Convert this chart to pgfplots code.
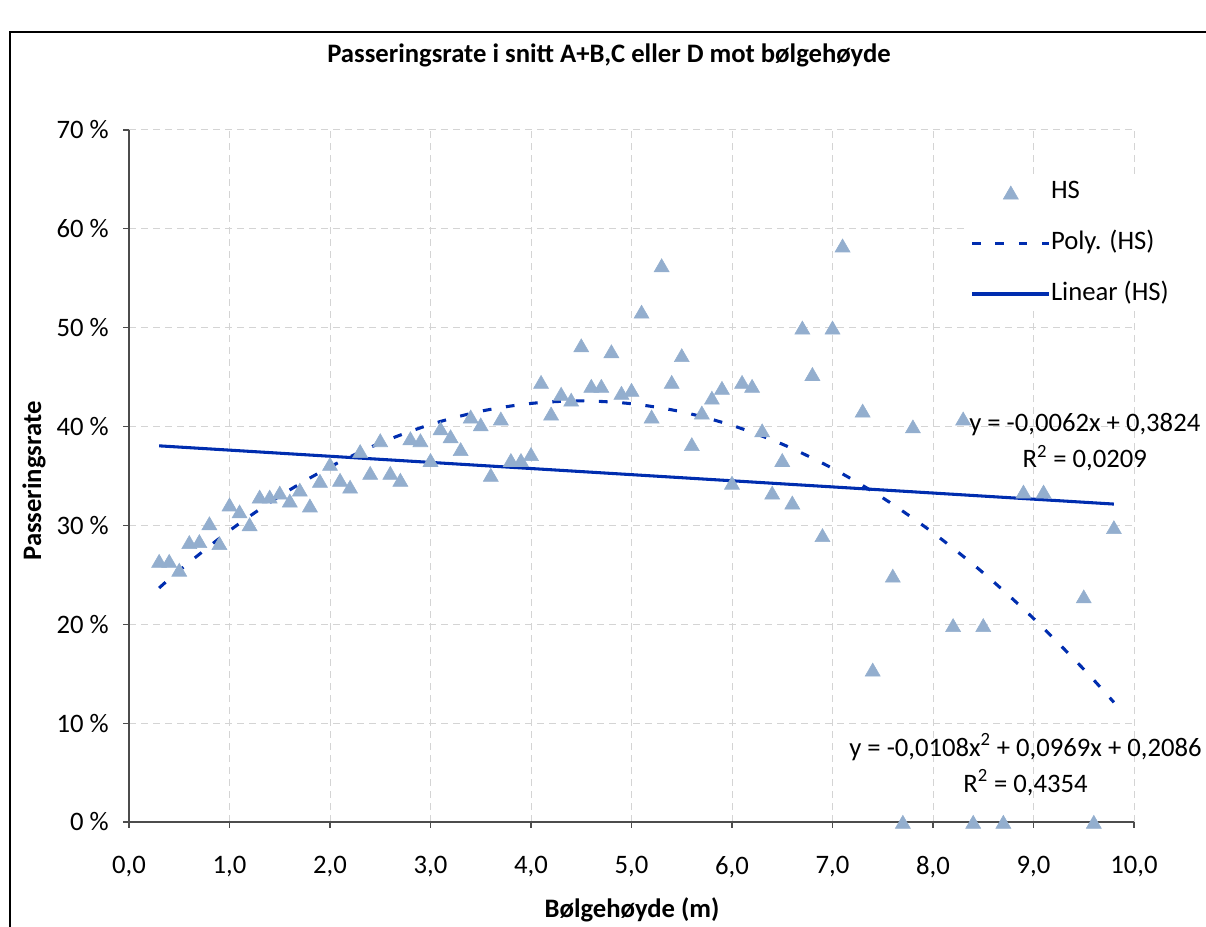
\documentclass[border=0pt]{standalone}
\usepackage{pgfplots}
\pgfplotsset{compat=1.18}
\usepackage{pgfplotstable}
\usepackage{fontspec}
\setmainfont{Carlito}
\definecolor{hsfill}{RGB}{147,174,206}
\definecolor{trend}{RGB}{0,45,175}
\definecolor{gridc}{RGB}{212,212,212}
\newcommand\tf{\fontsize{20}{24}\selectfont}
\pgfplotsset{
  linelegend/.style={legend image code/.code={\draw[##1] (0pt,0pt) -- (58pt,0pt);}},
  marklegend/.style={legend image code/.code={\draw[##1] plot coordinates {(29pt,0pt)};}},
}

\pgfplotstableread{
x y
0.3 26.4
0.4 26.4
0.5 25.5
0.6 28.3
0.7 28.4
0.8 30.2
0.9 28.2
1.0 32.1
1.1 31.4
1.2 30.1
1.3 32.9
1.4 32.9
1.5 33.3
1.6 32.5
1.7 33.6
1.8 32.0
1.9 34.5
2.0 36.2
2.1 34.6
2.2 33.9
2.3 37.5
2.4 35.3
2.5 38.6
2.6 35.3
2.7 34.6
2.8 38.8
2.9 38.6
3.0 36.6
3.1 39.8
3.2 39.0
3.3 37.7
3.4 41.0
3.5 40.2
3.6 35.1
3.7 40.8
3.8 36.6
3.9 36.6
4.0 37.2
4.1 44.5
4.2 41.3
4.3 43.3
4.4 42.7
4.5 48.2
4.6 44.1
4.7 44.1
4.8 47.6
4.9 43.4
5.0 43.7
5.1 51.6
5.2 41.0
5.3 56.3
5.4 44.5
5.5 47.2
5.6 38.2
5.7 41.4
5.8 42.9
5.9 43.9
6.0 34.3
6.1 44.5
6.2 44.1
6.3 39.6
6.4 33.3
6.5 36.6
6.6 32.3
6.7 50.0
6.8 45.3
6.9 29.0
7.0 50.0
7.1 58.3
7.3 41.6
7.4 15.4
7.6 24.9
7.7 0
7.8 40.0
8.2 19.9
8.3 40.8
8.4 0
8.5 19.9
8.7 0
8.9 33.4
9.1 33.4
9.5 22.8
9.6 0
9.8 29.8
}\hsdata

\pgfplotstableread{
x y
0.3 23.67
0.5 25.44
1.0 29.47
1.5 32.97
2.0 35.92
2.5 38.34
3.0 40.21
3.5 41.55
4.0 42.34
4.5 42.60
5.0 42.31
5.5 41.49
6.0 40.12
6.5 38.22
7.0 35.77
7.5 32.79
8.0 29.26
8.5 25.20
9.0 20.59
9.5 15.45
9.8 12.10
}\polydata

\pgfplotstableread{
x y
0.3 38.05
9.8 32.16
}\lindata

\begin{document}
\begin{tikzpicture}
\useasboundingbox (0,0) rectangle (904.5pt,695.25pt);
\draw[line width=1.2pt] (7.5pt,0) -- (7.5pt,671.25pt) -- (904.5pt,671.25pt);
\begin{axis}[
  at={(96.75pt,78.75pt)}, anchor=south west,
  scale only axis, width=753.75pt, height=519pt,
  xmin=0, xmax=10, ymin=0, ymax=70,
  clip=false,
  xtick={0,1,...,10}, ytick={0,10,...,70},
  xticklabels={{0,0},{1,0},{2,0},{3,0},{4,0},{5,0},{6,0},{7,0},{8,0},{9,0},{10,0}},
  yticklabels={0 \%,10 \%,20 \%,30 \%,40 \%,50 \%,60 \%,70 \%},
  axis lines*=left,
  axis line style={black!70, line width=0.9pt},
  tick align=outside, major tick length=4.5pt,
  tick style={black!70, line width=0.8pt},
  grid=major,
  major grid style={gridc, dash pattern=on 5pt off 4pt, line width=0.75pt},
  xticklabel style={font=\tf, inner sep=0pt, anchor=north, yshift=-21.2pt},
  yticklabel style={font=\tf, inner sep=0pt, anchor=east, xshift=-10.5pt},
  legend style={draw=none, fill=white, font=\tf, at={(axis cs:8.345,65.1)}, anchor=north west,
     inner sep=2pt, row sep=21pt,
     nodes={inner sep=0pt, text height=13pt, text depth=4pt}},
  legend cell align=left,
  /tikz/every even column/.append style={column sep=8pt},
]
\addplot[only marks, mark=triangle*, mark size=6.5pt, color=hsfill,
  mark options={fill=hsfill, draw=hsfill, yshift=-1.5pt}, marklegend]
  table[x=x,y=y] {\hsdata};
\addlegendentry{HS}
\addplot[trend, line width=2.3pt, dash pattern=on 6.5pt off 11pt, smooth, linelegend]
  table[x=x,y=y] {\polydata};
\addlegendentry{Poly. (HS)}
\addplot[trend, line width=2.3pt, linelegend]
  table[x=x,y=y] {\lindata};
\addlegendentry{Linear (HS)}
\node[font=\tf, align=center, inner sep=0pt] at (axis cs:9.51,38.4)
  {y = -0,0062x + 0,3824\\[3pt]R\textsuperscript{2} = 0,0209};
\node[font=\tf, align=center, inner sep=0pt] at (axis cs:8.92,5.8)
  {y = -0,0108x\textsuperscript{2} + 0,0969x + 0,2086\\[3pt]R\textsuperscript{2} = 0,4354};
\end{axis}
\node[font=\tf\bfseries] at (456.75pt,654pt) {Passeringsrate i snitt A+B,C eller D mot bølgehøyde};
\node[font=\tf\bfseries, rotate=90] at (25.5pt,334.5pt) {Passeringsrate};
\node[font=\tf\bfseries] at (474pt,12.75pt) {Bølgehøyde (m)};
\end{tikzpicture}
\end{document}
